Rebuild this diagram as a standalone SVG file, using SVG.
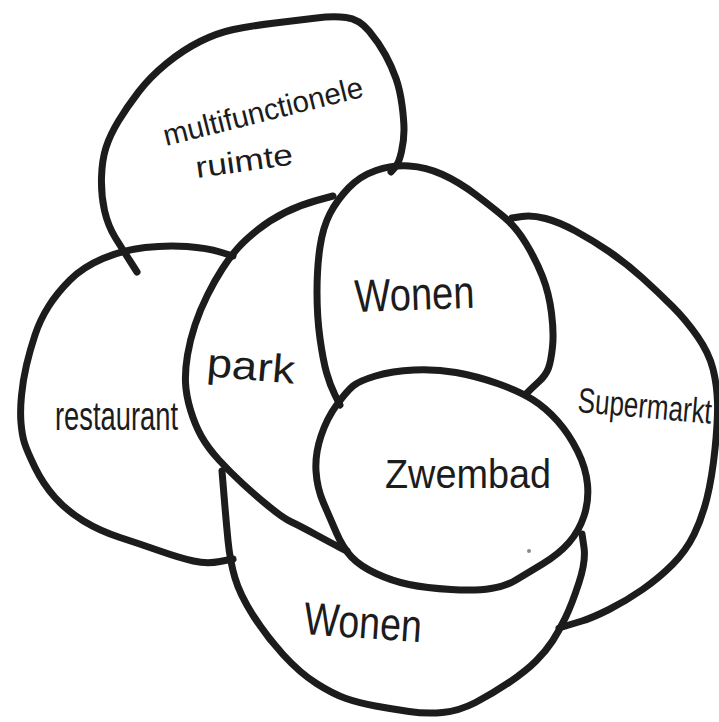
<svg xmlns="http://www.w3.org/2000/svg" width="719" height="722" viewBox="0 0 719 722">
<style>
.o{fill:none;stroke:#1c1c1c;stroke-width:7;stroke-linecap:round;stroke-linejoin:round}
.t{font-family:"Liberation Sans","DejaVu Sans",sans-serif;fill:#1c1c1c}
</style>
<rect width="719" height="722" fill="#ffffff"/>
<g id="multifunctionele-ruimte">
<path class="o" d="M137,272 L130,261 Q123,250 115.5,238 Q108,226 104.5,210.5 Q101,195 101.5,177.5 Q102,160 106,147.5 Q110,135 118.5,121 Q127,107 138.5,92 Q150,77 166.5,63.5 Q183,50 200,41.5 Q217,33 233.5,29.5 Q250,26 275,23 Q300,20 316.5,18 Q333,16 346,17.5 Q359,19 369,31 Q379,43 385.5,55 Q392,67 396,78.5 Q400,90 402,105 Q404,120 404,130 Q404,140 401.5,151.5 Q399,163 395,167.5 L391,172"/>
<text class="t" font-size="30" transform="translate(166,146) rotate(-14)" textLength="205" lengthAdjust="spacingAndGlyphs">multifunctionele</text>
<text class="t" font-size="30" transform="translate(197,178) rotate(-8)" textLength="98" lengthAdjust="spacingAndGlyphs">ruimte</text>
</g>
<g id="restaurant">
<path class="o" d="M233,256 L220,252 Q207,248 187,246.5 Q167,245 145,247.5 Q123,250 103,258.5 Q83,267 70,280 Q57,293 48.5,306.5 Q40,320 35,335 Q30,350 26.5,365 Q23,380 21.5,395.5 Q20,411 21,423 Q22,435 24.5,443 Q27,451 35,467.5 Q43,484 55,497.5 Q67,511 83.5,521 Q100,531 120,537.5 Q140,544 160,551 Q180,558 193.5,561 Q207,564 220,561.5 L233,559"/>
<text class="t" font-size="40" x="55" y="430" textLength="123" lengthAdjust="spacingAndGlyphs">restaurant</text>
</g>
<g id="park">
<path class="o" d="M333,196 L316.5,200.5 Q300,205 285,212.5 Q270,220 257.5,230 Q245,240 237.5,248.5 Q230,257 222.5,268.5 Q215,280 207.5,295 Q200,310 195,325 Q190,340 187.5,355 Q185,370 185.5,382.5 Q186,395 190.5,410 Q195,425 201.5,436.5 Q208,448 219,460 Q230,472 242.5,483.5 Q255,495 269,506.5 Q283,518 291.5,522 Q300,526 316.5,535 Q333,544 340,547.5 L347,551"/>
<text class="t" font-size="40" transform="translate(206,376) rotate(5)" textLength="88" lengthAdjust="spacingAndGlyphs">park</text>
</g>
<g id="wonen-boven">
<path class="o" d="M340,405 L335,395 Q330,385 326.5,372.5 Q323,360 320,338.5 Q317,317 317,292 Q317,267 320,247 Q323,227 330,213.5 Q337,200 348.5,188 Q360,176 376,170.5 Q392,165 409,166 Q426,167 442.5,174.5 Q459,182 475.5,194.5 Q492,207 504,217 Q516,227 526,243.5 Q536,260 542.5,276.5 Q549,293 551.5,313 Q554,333 552.5,347 Q551,361 548.5,368 Q546,375 539,381.5 Q532,388 529,391 L526,394"/>
<text class="t" font-size="46" transform="translate(355,312) rotate(-2)" textLength="120" lengthAdjust="spacingAndGlyphs">Wonen</text>
</g>
<g id="supermarkt">
<path class="o" d="M512,218 L522,216.5 Q532,215 545.5,218.5 Q559,222 575.5,231 Q592,240 609,251.5 Q626,263 642.5,278 Q659,293 672.5,306.5 Q686,320 697.5,336.5 Q709,353 713,369 Q717,385 717.5,402.5 Q718,420 715,449 Q712,478 707,498 Q702,518 694,534.5 Q686,551 672.5,564.5 Q659,578 642.5,589.5 Q626,601 609,609.5 Q592,618 582,621 Q572,624 565.5,626 L559,628"/>
<text class="t" font-size="26" transform="translate(577,412) rotate(5) scale(1,1.35)">Supermarkt</text>
</g>
<g id="zwembad">
<path class="o" d="M353,386 Q359,381 375.5,376 Q392,371 414,370 Q436,369 456,372.5 Q476,376 497.5,383.5 Q519,391 532.5,399.5 Q546,408 557.5,421 Q569,434 577.5,451 Q586,468 587.5,484.5 Q589,501 584,516 Q579,531 569,542.5 Q559,554 542.5,564 Q526,574 516,580 Q506,586 491,588.5 Q476,591 451,589.5 Q426,588 409,584.5 Q392,581 376,573.5 Q360,566 351.5,557 Q343,548 336.5,533 Q330,518 323.5,503 Q317,488 316,471 Q315,454 321,436 Q327,418 337,404.5 Q347,391 353,386 Z"/>
<text class="t" font-size="40" x="385" y="488" textLength="166" lengthAdjust="spacingAndGlyphs">Zwembad</text>
<circle cx="529" cy="551" r="2" fill="#888"/>
</g>
<g id="wonen-onder">
<path class="o" d="M222,471 L224,495.5 Q226,520 228,540.5 Q230,561 235,578 Q240,595 253.5,616 Q267,637 283.5,655 Q300,673 316.5,683.5 Q333,694 346,698.5 Q359,703 375.5,706 Q392,709 409,711.5 Q426,714 442.5,712.5 Q459,711 475.5,702.5 Q492,694 509,682.5 Q526,671 536,661 Q546,651 552.5,641 Q559,631 565.5,617.5 Q572,604 579,582.5 Q586,561 584,547.5 L582,534"/>
<text class="t" font-size="46" transform="translate(303,634) rotate(4)" textLength="118" lengthAdjust="spacingAndGlyphs">Wonen</text>
</g>
</svg>
